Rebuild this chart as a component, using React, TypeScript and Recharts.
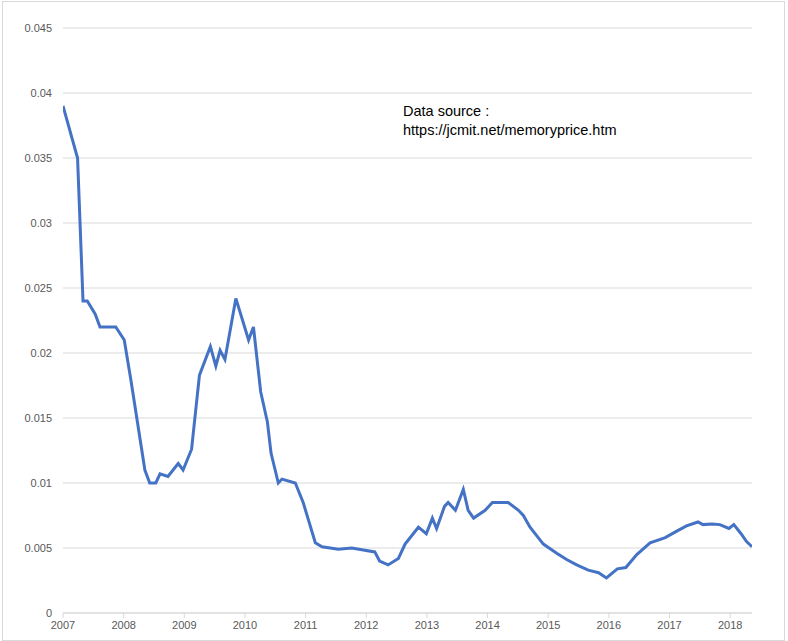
import { LineChart, Line, XAxis, YAxis, CartesianGrid } from "recharts";

// decimal year of each vertex
const years = [
  2007.0, 2007.24, 2007.33, 2007.4, 2007.53, 2007.61, 2007.87, 2008.01, 2008.12, 2008.35,
  2008.43, 2008.53, 2008.6, 2008.73, 2008.9, 2008.98, 2009.12, 2009.25, 2009.43, 2009.52,
  2009.59, 2009.67, 2009.85, 2010.06, 2010.14, 2010.26, 2010.37, 2010.43, 2010.55, 2010.61,
  2010.83, 2010.96, 2011.16, 2011.27, 2011.54, 2011.76, 2012.14, 2012.22, 2012.36, 2012.53,
  2012.64, 2012.86, 2012.99, 2013.09, 2013.16, 2013.29, 2013.35, 2013.47, 2013.6, 2013.68,
  2013.77, 2013.96, 2014.08, 2014.34, 2014.51, 2014.59, 2014.7, 2014.92, 2015.14, 2015.31,
  2015.47, 2015.66, 2015.83, 2015.96, 2016.14, 2016.28, 2016.46, 2016.68, 2016.93, 2017.12,
  2017.28, 2017.47, 2017.55, 2017.7, 2017.83, 2017.98, 2018.06, 2018.18, 2018.27, 2018.36,
];

// price per MB (USD)
const price = [
  0.039, 0.035, 0.024, 0.024, 0.023, 0.022, 0.022, 0.021, 0.0179, 0.011,
  0.01, 0.01, 0.0107, 0.0105, 0.0115, 0.011, 0.0126, 0.0183, 0.0205, 0.019,
  0.0202, 0.0195, 0.0242, 0.021, 0.022, 0.017, 0.0147, 0.0123, 0.01, 0.0103,
  0.01, 0.0085, 0.0054, 0.0051, 0.0049, 0.005, 0.0047, 0.004, 0.0037, 0.0042,
  0.0053, 0.0066, 0.0061, 0.0073, 0.0065, 0.0082, 0.0085, 0.0079, 0.0095, 0.0079,
  0.0073, 0.0079, 0.0085, 0.0085, 0.0079, 0.0075, 0.0066, 0.0053, 0.0046, 0.0041,
  0.0037, 0.0033, 0.0031, 0.0027, 0.0034, 0.0035, 0.0045, 0.0054, 0.0058, 0.0063,
  0.0067, 0.007, 0.0068, 0.00685, 0.0068, 0.0065, 0.0068, 0.0061, 0.0055, 0.0051,
];

const yearTicks = [2007, 2008, 2009, 2010, 2011, 2012, 2013, 2014, 2015, 2016, 2017, 2018];
const valueTicks = [0, 0.005, 0.01, 0.015, 0.02, 0.025, 0.03, 0.035, 0.04, 0.045];

const data = years.map((t, i) => ({ t, price: price[i] }));

const tickStyle = { fill: "#595959", fontSize: 11, fontFamily: "Liberation Sans, Arial, sans-serif" };

export default function App() {
  return (
    <div style={{ position: "absolute", left: 0, top: 0, width: 788, height: 641, background: "#fff" }}>
      <div style={{ position: "absolute", left: 2, top: 1, width: 781, height: 638, border: "1px solid #D9D9D9" }} />
      <LineChart width={788} height={641} data={data} margin={{ top: 28, right: 36, bottom: 0, left: 0 }}>
        <CartesianGrid vertical={false} stroke="#D9D9D9" />
        <XAxis
          dataKey="t"
          type="number"
          domain={[2007, 2018.36]}
          ticks={yearTicks}
          tickFormatter={(v) => String(v)}
          stroke="#D9D9D9"
          tick={tickStyle}
          tickSize={5}
          tickMargin={3}
          height={28}
          allowDataOverflow
        />
        <YAxis
          domain={[0, 0.045]}
          ticks={valueTicks}
          tickFormatter={(v) => String(Number(v.toFixed(3)))}
          axisLine={false}
          tickLine={false}
          tickSize={0}
          tickMargin={11}
          tick={tickStyle}
          width={63}
        />
        <Line type="linear" dataKey="price" stroke="#4472C4" strokeWidth={3} dot={false} isAnimationActive={false} />
      </LineChart>
      <div
        style={{
          position: "absolute", left: 403, top: 102, color: "#000", fontSize: 14.5, lineHeight: "19px",
          fontFamily: "Liberation Sans, Arial, sans-serif",
        }}
      >
        Data source :<br />
        https://jcmit.net/memoryprice.htm
      </div>
    </div>
  );
}
